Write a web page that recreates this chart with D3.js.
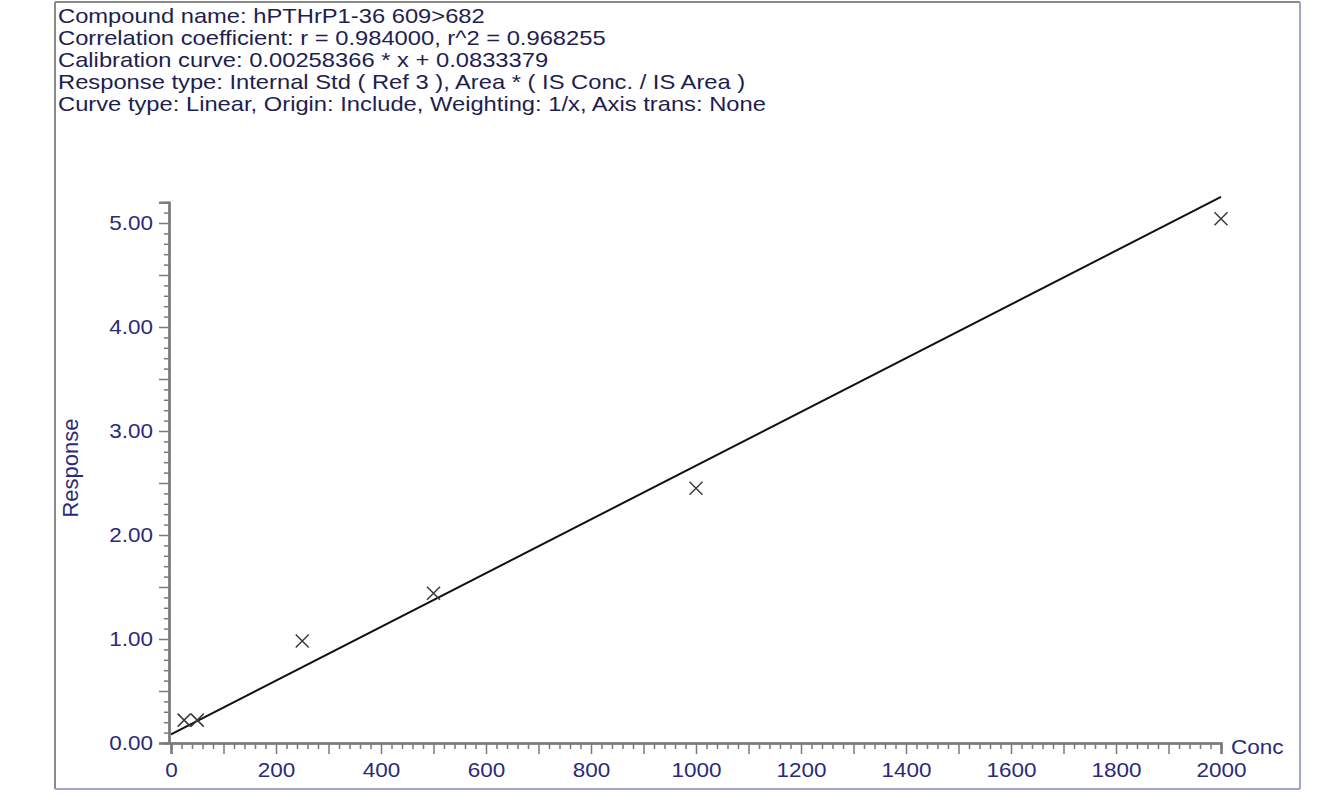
<!DOCTYPE html>
<html>
<head>
<meta charset="utf-8">
<script src="https://cdn.jsdelivr.net/npm/d3@7"></script>
<style>
  html, body { margin: 0; padding: 0; background: #ffffff; }
  svg { display: block; }
  text { font-family: "Liberation Sans", Arial, sans-serif; }
</style>
</head>
<body>
<svg id="chart" width="1337" height="798"></svg>
<script>
// Calibration header lines
const headerLines = [
  "Compound name: hPTHrP1-36 609>682",
  "Correlation coefficient: r = 0.984000, r^2 = 0.968255",
  "Calibration curve: 0.00258366 * x + 0.0833379",
  "Response type: Internal Std ( Ref 3 ), Area * ( IS Conc. / IS Area )",
  "Curve type: Linear, Origin: Include, Weighting: 1/x, Axis trans: None"
];

// Calibration standards (concentration, response)
const concValues = [25, 50, 250, 500, 1000, 2000];
const responseValues = [0.22, 0.22, 0.98, 1.44, 2.45, 5.04];

// Fitted curve coefficients
const slope = 0.00258366;
const intercept = 0.0833379;

// Axis ticks
const xTickLabels = [0, 200, 400, 600, 800, 1000, 1200, 1400, 1600, 1800, 2000];
const yTickLabels = [0, 1, 2, 3, 4, 5];
const xDomain = [0, 2000];
const yDomain = [0, 5.2];

const svg = d3.select("#chart");
const hStretch = 1.13;

// widen horizontal text to the wide screen font
function stretch(sel, k) {
  sel.each(function () {
    const w = this.getComputedTextLength();
    d3.select(this).attr("textLength", w * k).attr("lengthAdjust", "spacingAndGlyphs");
  });
}

// outer frame
const frame = svg.append("g");
frame.append("line").attr("x1", 55).attr("y1", 2).attr("x2", 1300).attr("y2", 2)
  .attr("stroke", "#8a8a8a").attr("stroke-width", 2);
frame.append("line").attr("x1", 55).attr("y1", 2).attr("x2", 55).attr("y2", 789)
  .attr("stroke", "#8a8a8a").attr("stroke-width", 2);
frame.append("line").attr("x1", 1300).attr("y1", 2).attr("x2", 1300).attr("y2", 789)
  .attr("stroke", "#9ea6cc").attr("stroke-width", 2);
frame.append("line").attr("x1", 55).attr("y1", 789).attr("x2", 1300).attr("y2", 789)
  .attr("stroke", "#9ea6cc").attr("stroke-width", 2);

// header
const header = svg.append("g").selectAll("text").data(headerLines).join("text")
  .attr("x", 58)
  .attr("y", (d, i) => 23 + i * 22)
  .attr("font-size", 21)
  .attr("fill", "#1e1e50")
  .text(d => d);
stretch(header, hStretch);

const x = d3.scaleLinear().domain(xDomain).range([171, 1221]);
const y = d3.scaleLinear().domain(yDomain).range([743, 743 - 5.2 * 104]);

const axisColor = "#7a7a7a";
const labelColor = "#2a2a78";

// y axis: minor, half and major ticks
const yMinor = d3.range(0, 53).map(i => i / 10).filter(v => Math.round(v * 10) % 5 !== 0);
const yHalf = d3.range(0, 11).map(i => i / 2).filter(v => v % 1 !== 0);

const yAxisG = svg.append("g").attr("transform", "translate(169,0)");
yAxisG.append("g").call(d3.axisLeft(y).tickValues(yMinor).tickSize(5).tickFormat(""));
yAxisG.append("g").call(d3.axisLeft(y).tickValues(yHalf).tickSize(10).tickFormat(""));
yAxisG.append("g").call(d3.axisLeft(y).tickValues(yTickLabels).tickSize(10).tickPadding(6).tickFormat(d3.format(".2f")));
yAxisG.selectAll("path.domain").attr("stroke", axisColor).attr("stroke-width", 2);
yAxisG.selectAll(".tick line").attr("stroke", axisColor).attr("stroke-width", 1.5);
const yLabels = yAxisG.selectAll(".tick text").attr("font-size", 21).attr("fill", labelColor)
  .attr("font-family", "Liberation Sans, Arial, sans-serif");
stretch(yLabels, 1.07);

// x axis
const xMinor = d3.range(0, 2001, 20).filter(v => v % 100 !== 0);
const xHalf = d3.range(100, 2000, 200);
const xAxisG = svg.append("g").attr("transform", "translate(0,743)");
xAxisG.append("g").call(d3.axisBottom(x).tickValues(xMinor).tickSize(6).tickFormat(""));
xAxisG.append("g").call(d3.axisBottom(x).tickValues(xHalf).tickSize(11).tickFormat(""));
xAxisG.append("g").call(d3.axisBottom(x).tickValues(xTickLabels).tickSize(11).tickPadding(8).tickFormat(d3.format("d")));
xAxisG.selectAll("path.domain").attr("stroke", axisColor).attr("stroke-width", 2);
xAxisG.selectAll(".tick line").attr("stroke", axisColor).attr("stroke-width", 1.5);
const xLabels = xAxisG.selectAll(".tick text").attr("font-size", 21).attr("fill", labelColor)
  .attr("font-family", "Liberation Sans, Arial, sans-serif");
stretch(xLabels, 1.07);

// axis titles
const concLabel = svg.append("text").attr("x", 1231).attr("y", 754)
  .attr("font-size", 21).attr("fill", labelColor).text("Conc");
stretch(concLabel, 1.07);
svg.append("text")
  .attr("transform", "translate(78,468) rotate(-90)")
  .attr("text-anchor", "middle")
  .attr("font-size", 22).attr("fill", labelColor).text("Response");

// fitted calibration line
svg.append("line")
  .attr("x1", x(xDomain[0])).attr("y1", y(intercept + slope * xDomain[0]))
  .attr("x2", x(xDomain[1])).attr("y2", y(intercept + slope * xDomain[1]))
  .attr("stroke", "#111111").attr("stroke-width", 2);

// standard points as crosses
const pts = concValues.map((c, i) => ({ c, r: responseValues[i] }));
const s = 6.5;
svg.append("g").selectAll("path").data(pts).join("path")
  .attr("d", d => {
    const cx = x(d.c), cy = y(d.r);
    return `M${cx - s},${cy - s}L${cx + s},${cy + s}M${cx - s},${cy + s}L${cx + s},${cy - s}`;
  })
  .attr("stroke", "#3a3a3a").attr("stroke-width", 1.5).attr("fill", "none");
</script>
</body>
</html>
